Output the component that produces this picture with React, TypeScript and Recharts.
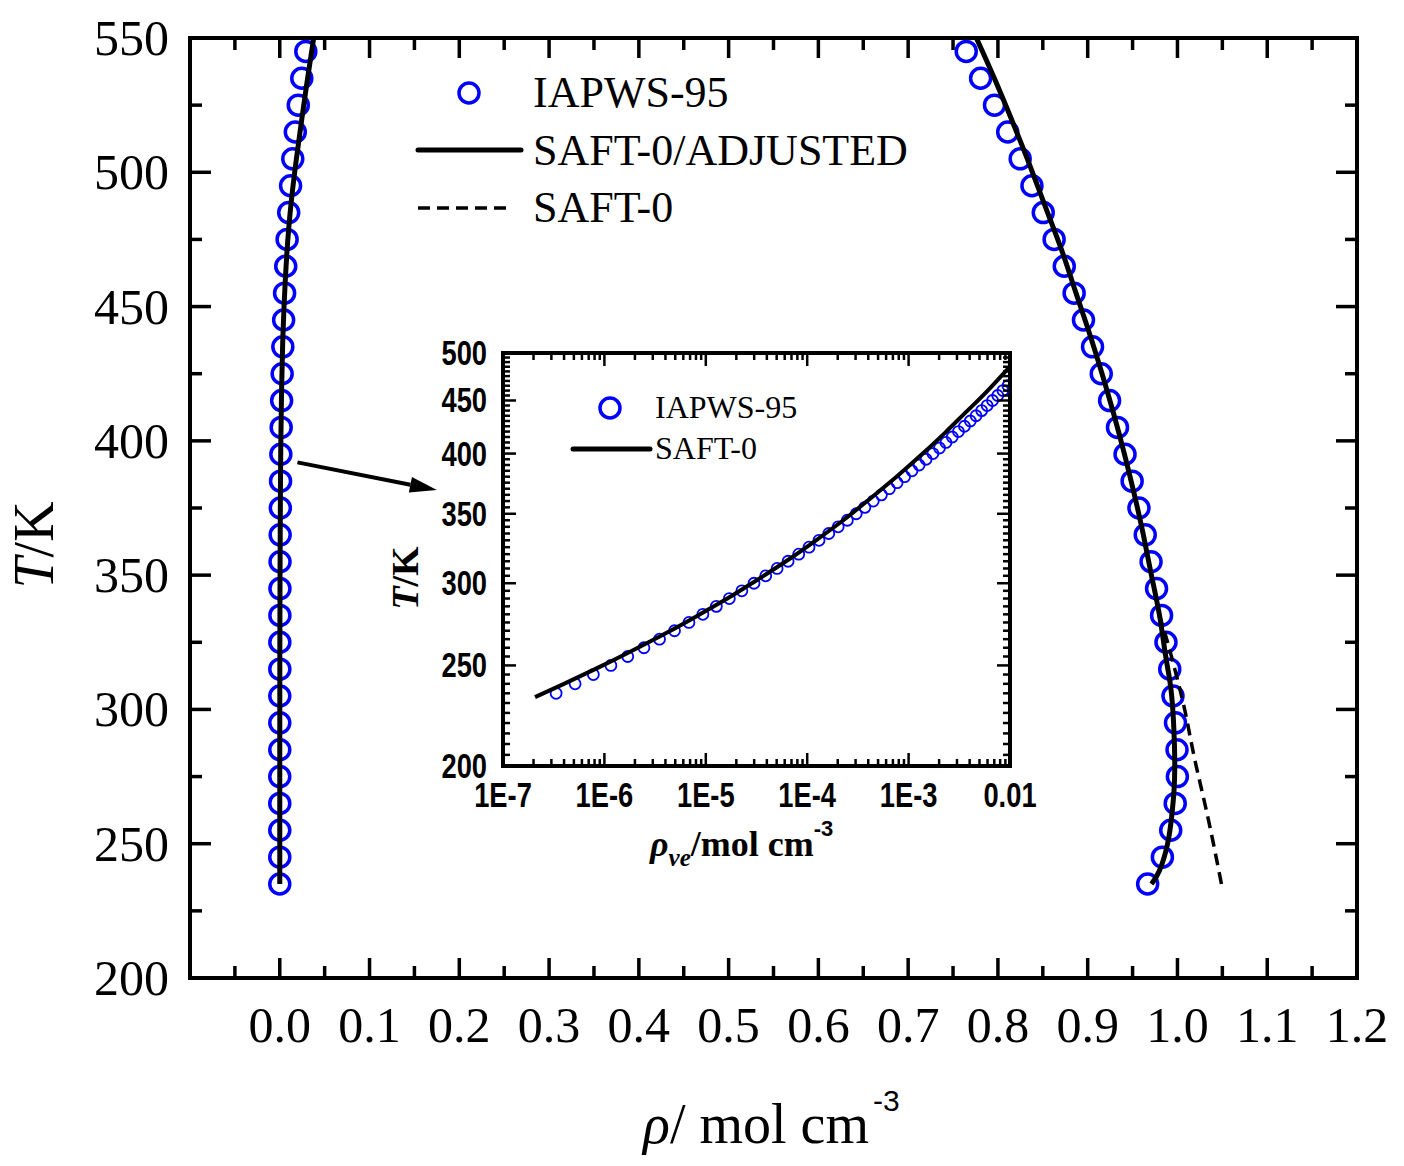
import React from 'react';
import { ComposedChart, Line, Scatter, XAxis, YAxis, ReferenceArea, ReferenceLine } from 'recharts';

const SERIF = '"Liberation Serif", "Times New Roman", serif';
const SANS = '"Liberation Sans", Arial, sans-serif';
const BLUE = '#0000ff';

// ---------- main panel: coexistence densities ----------
// IAPWS-95 saturation temperatures (K)
const tempIapws = [235, 245, 255, 265, 275, 285, 295, 305, 315, 325, 335, 345, 355, 365, 375, 385,
  395, 405, 415, 425, 435, 445, 455, 465, 475, 485, 495, 505, 515, 525, 535, 545];
const rhoVapourIapws = [0.00000025, 0.00000063, 0.0000014, 0.0000029, 0.0000057, 0.000011, 0.000019,
  0.000033, 0.000053, 0.000083, 0.00013, 0.0002, 0.0003, 0.00044, 0.00064, 0.00087, 0.00119, 0.00158,
  0.00207, 0.00267, 0.00341, 0.0043, 0.00538, 0.00665, 0.00817, 0.00995, 0.01203, 0.01447, 0.01731,
  0.02063, 0.0245, 0.029];
const rhoLiquidIapws = [0.9668, 0.9832, 0.9925, 0.9975, 0.9999, 0.9995, 0.9978, 0.995, 0.9914, 0.9872,
  0.9823, 0.9767, 0.9706, 0.9641, 0.9571, 0.9495, 0.9416, 0.9332, 0.9244, 0.9151, 0.9054, 0.8953,
  0.8849, 0.8739, 0.8626, 0.8505, 0.8379, 0.8248, 0.8109, 0.7962, 0.7807, 0.7647];

// SAFT-0/ADJUSTED
const tempAdjVapour = [235, 260, 290, 320, 350, 380, 400, 420, 440, 460, 480, 500, 520, 535, 550];
const rhoAdjVapour = [0.0000003, 0.000002, 0.000015, 0.00008, 0.0003, 0.0007, 0.0012, 0.0021, 0.0036,
  0.0062, 0.0102, 0.0166, 0.0246, 0.031, 0.0378];
const tempAdjLiquid = [235, 240, 250, 260, 270, 280, 290, 300, 310, 320, 335, 350, 365, 380, 395, 410,
  425, 440, 455, 471, 487, 503, 519, 535, 550];
const rhoAdjLiquid = [0.971, 0.98, 0.989, 0.9935, 0.9962, 0.997, 0.9963, 0.9948, 0.9918, 0.9868, 0.98,
  0.971, 0.962, 0.952, 0.941, 0.929, 0.916, 0.902, 0.887, 0.871, 0.853, 0.835, 0.816, 0.796, 0.776];

// SAFT-0 (original parameters), liquid branch where it departs
const tempSaft0Liquid = [235, 255, 270, 285, 300, 315, 325, 335];
const rhoSaft0Liquid = [1.049, 1.037, 1.027, 1.017, 1.008, 0.997, 0.989, 0.98];

const xMajorTicks = [0, 0.1, 0.2, 0.3, 0.4, 0.5, 0.6, 0.7, 0.8, 0.9, 1.0, 1.1, 1.2];
const xTickLabels = ['0.0', '0.1', '0.2', '0.3', '0.4', '0.5', '0.6', '0.7', '0.8', '0.9', '1.0', '1.1', '1.2'];
const xMinorTicks = [-0.05, 0.05, 0.15, 0.25, 0.35, 0.45, 0.55, 0.65, 0.75, 0.85, 0.95, 1.05, 1.15];
const yMajorTicks = [200, 250, 300, 350, 400, 450, 500, 550];
const yMinorTicks = [225, 275, 325, 375, 425, 475, 525];

// arrow pointing from the vapour branch to the inset
const arrowFrom = { x: 0.0197, y: 392 };
const arrowTo = { x: 0.175, y: 381.7 };

// ---------- inset: vapour density on log axes ----------
const tempInsetIapws = [235, 240, 245, 250, 255, 260, 265, 270, 275, 280, 285, 290, 295, 300, 305, 310,
  315, 320, 325, 330, 335, 340, 345, 350, 355, 360, 365, 370, 375, 380, 385, 390, 395, 400, 405, 410,
  415, 420, 425, 430, 435, 440, 445, 450, 455, 460, 465];
const rhoInsetIapws = [3.34e-7, 5.14e-7, 7.78e-7, 1.159e-6, 1.698e-6, 2.453e-6, 3.494e-6, 4.913e-6,
  6.82e-6, 9.36e-6, 1.27e-5, 1.706e-5, 2.268e-5, 2.988e-5, 3.9e-5, 5.05e-5, 6.48e-5, 8.25e-5, 1.042e-4,
  1.308e-4, 1.632e-4, 2.021e-4, 2.488e-4, 3.044e-4, 3.703e-4, 4.481e-4, 5.395e-4, 6.462e-4, 7.7e-4,
  9.14e-4, 1.08e-3, 1.27e-3, 1.488e-3, 1.736e-3, 2.017e-3, 2.336e-3, 2.696e-3, 3.101e-3, 3.555e-3,
  4.061e-3, 4.627e-3, 5.256e-3, 5.952e-3, 6.724e-3, 7.571e-3, 8.507e-3, 9.535e-3];
const tempInsetSaft0 = [233, 240, 250, 260, 270, 280, 290, 300, 315, 330, 345, 360, 380, 400, 420, 440,
  460, 485, 490];
const rhoInsetSaft0 = [2.07e-7, 3.99e-7, 9.64e-7, 2.14e-6, 4.48e-6, 8.73e-6, 1.63e-5, 2.85e-5, 6.18e-5,
  1.222e-4, 2.27e-4, 3.9e-4, 7.6e-4, 1.378e-3, 2.35e-3, 3.81e-3, 6.03e-3, 9.93e-3, 1.1e-2];

const insetXMajor = [1e-7, 1e-6, 1e-5, 1e-4, 1e-3, 1e-2];
const insetXLabels = ['1E-7', '1E-6', '1E-5', '1E-4', '1E-3', '0.01'];
const insetYMajor = [200, 250, 300, 350, 400, 450, 500];

// minor ticks of the inset: 2..9 per decade, every 5 K
const insetXTicks: number[] = [];
insetXMajor.slice(0, -1).forEach((d) => {
  for (let k = 1; k <= 9; k++) insetXTicks.push(k * d);
});
insetXTicks.push(1e-2);
const insetYTicks: number[] = [];
for (let t = 200; t <= 500; t += 5) insetYTicks.push(t);

const zip = (t: number[], r: number[]) => t.map((T, i) => ({ T, rho: r[i] }));

const iapwsMain = [...zip(tempIapws, rhoVapourIapws), ...zip(tempIapws, rhoLiquidIapws)];
const adjVapour = zip(tempAdjVapour, rhoAdjVapour);
const adjLiquid = zip(tempAdjLiquid, rhoAdjLiquid);
const saft0Liquid = zip(tempSaft0Liquid, rhoSaft0Liquid);
const iapwsInset = zip(tempInsetIapws, rhoInsetIapws);
const saft0Inset = zip(tempInsetSaft0, rhoInsetSaft0);

// plot-area bounds (page pixels for the main chart)
const MAIN = { left: 190, top: 38, right: 1357, bottom: 978 };
// inset wrapper on the page, and its plot area inside the wrapper's own svg
const INSET_BOX = { left: 380, top: 330, width: 660, height: 560 };
const INSET = { left: 123, top: 23, right: 630, bottom: 436 };

const near = (a: number, b: number) => Math.abs(a - b) < 1e-6;

const MainXTick = (props: any) => {
  const { x, payload } = props;
  const idx = xMajorTicks.findIndex((m) => near(m, payload.value));
  const len = idx >= 0 ? 20 : 12;
  return (
    <g>
      <line x1={x} x2={x} y1={MAIN.bottom} y2={MAIN.bottom - len} stroke="#000" strokeWidth={3.5} />
      <line x1={x} x2={x} y1={MAIN.top} y2={MAIN.top + len} stroke="#000" strokeWidth={3.5} />
      {idx >= 0 && (
        <text x={x} y={MAIN.bottom + 64} textAnchor="middle" fontSize={50} fontFamily={SERIF} fill="#000">
          {xTickLabels[idx]}
        </text>
      )}
    </g>
  );
};

const MainYTick = (props: any) => {
  const { y, payload } = props;
  const major = yMajorTicks.includes(payload.value);
  const len = major ? 21 : 12;
  return (
    <g>
      <line x1={MAIN.left} x2={MAIN.left + len} y1={y} y2={y} stroke="#000" strokeWidth={3.5} />
      <line x1={MAIN.right} x2={MAIN.right - len} y1={y} y2={y} stroke="#000" strokeWidth={3.5} />
      {major && (
        <text x={MAIN.left - 21} y={y + 17} textAnchor="end" fontSize={50} fontFamily={SERIF} fill="#000">
          {payload.value}
        </text>
      )}
    </g>
  );
};

const InsetXTick = (props: any) => {
  const { x, payload } = props;
  const idx = insetXMajor.findIndex((m) => near(Math.log10(m), Math.log10(payload.value)));
  const len = idx >= 0 ? 13 : 7;
  return (
    <g>
      <line x1={x} x2={x} y1={INSET.bottom} y2={INSET.bottom - len} stroke="#000" strokeWidth={2.5} />
      <line x1={x} x2={x} y1={INSET.top} y2={INSET.top + len} stroke="#000" strokeWidth={2.5} />
      {idx >= 0 && (
        <text transform={`translate(${x},${INSET.bottom + 41}) scale(0.78,1)`} textAnchor="middle"
          fontSize={35} fontWeight="bold" fontFamily={SANS} fill="#000">
          {insetXLabels[idx]}
        </text>
      )}
    </g>
  );
};

const InsetYTick = (props: any) => {
  const { y, payload } = props;
  const major = insetYMajor.includes(payload.value);
  const len = major ? 13 : 7;
  return (
    <g>
      <line x1={INSET.left} x2={INSET.left + len} y1={y} y2={y} stroke="#000" strokeWidth={2.5} />
      <line x1={INSET.right} x2={INSET.right - len} y1={y} y2={y} stroke="#000" strokeWidth={2.5} />
      {major && (
        <text transform={`translate(${INSET.left - 16},${y + 12}) scale(0.78,1)`} textAnchor="end"
          fontSize={35} fontWeight="bold" fontFamily={SANS} fill="#000">
          {payload.value}
        </text>
      )}
    </g>
  );
};

const OpenCircle = (r: number, w: number) => (props: any) => (
  <circle cx={props.cx} cy={props.cy} r={r} fill="none" stroke={BLUE} strokeWidth={w} />
);

const Arrow = (props: any) => {
  const { x1, y1, x2, y2 } = props;
  const a = Math.atan2(y2 - y1, x2 - x1);
  const len = 27;
  const half = 8;
  const bx = x2 - len * Math.cos(a);
  const by = y2 - len * Math.sin(a);
  const px = -Math.sin(a) * half;
  const py = Math.cos(a) * half;
  return (
    <g>
      <line x1={x1} y1={y1} x2={bx} y2={by} stroke="#000" strokeWidth={4} />
      <polygon points={`${x2},${y2} ${bx + px},${by + py} ${bx - px},${by - py}`} fill="#000" />
    </g>
  );
};

export default function App() {
  return (
    <div style={{ position: 'absolute', left: 0, top: 0, width: 1404, height: 1166, background: '#fff' }}>
      <ComposedChart width={1404} height={1166} margin={{ top: 38, right: 47, bottom: 0, left: 0 }}>
        <XAxis dataKey="rho" type="number" domain={[-0.1, 1.2]} allowDataOverflow
          ticks={[...xMajorTicks, ...xMinorTicks].sort((a, b) => a - b)} interval={0}
          tick={MainXTick} tickLine={false} axisLine={false} tickSize={0} tickMargin={0} height={188} />
        <YAxis dataKey="T" type="number" domain={[200, 550]} allowDataOverflow
          ticks={[...yMajorTicks, ...yMinorTicks].sort((a, b) => a - b)} interval={0}
          tick={MainYTick} tickLine={false} axisLine={false} tickSize={0} tickMargin={0} width={190} />
        <ReferenceArea x1={-0.1} x2={1.2} y1={200} y2={550} fill="none" stroke="#000" strokeWidth={4} />
        <Scatter data={iapwsMain} shape={OpenCircle(10, 3.5)} isAnimationActive={false} />
        <Line data={saft0Liquid} dataKey="T" type="natural" stroke="#000" strokeWidth={3.5}
          strokeDasharray="12 7" dot={false} activeDot={false} isAnimationActive={false} zIndex={700} />
        <Line data={adjVapour} dataKey="T" type="natural" stroke="#000" strokeWidth={5}
          dot={false} activeDot={false} isAnimationActive={false} zIndex={700} />
        <Line data={adjLiquid} dataKey="T" type="natural" stroke="#000" strokeWidth={5}
          dot={false} activeDot={false} isAnimationActive={false} zIndex={700} />
        <ReferenceLine segment={[arrowFrom, arrowTo]} shape={Arrow} />
      </ComposedChart>

      <div style={{ position: 'absolute', left: INSET_BOX.left, top: INSET_BOX.top }}>
        <ComposedChart width={INSET_BOX.width} height={INSET_BOX.height}
          margin={{ top: INSET.top, right: INSET_BOX.width - INSET.right, bottom: 0, left: 0 }}>
          <XAxis dataKey="rho" type="number" scale="log" domain={[1e-7, 1e-2]} allowDataOverflow
            ticks={insetXTicks} interval={0} tick={InsetXTick} tickLine={false} axisLine={false}
            tickSize={0} tickMargin={0} height={INSET_BOX.height - INSET.bottom} />
          <YAxis dataKey="T" type="number" scale="log" domain={[200, 500]} allowDataOverflow
            ticks={insetYTicks} interval={0} tick={InsetYTick} tickLine={false} axisLine={false}
            tickSize={0} tickMargin={0} width={INSET.left} />
          <ReferenceArea x1={1e-7} x2={1e-2} y1={200} y2={500} fill="none" stroke="#000" strokeWidth={4} />
          <Scatter data={iapwsInset} shape={OpenCircle(5.5, 1.8)} isAnimationActive={false} />
          <Line data={saft0Inset} dataKey="T" type="natural" stroke="#000" strokeWidth={4}
            dot={false} activeDot={false} isAnimationActive={false} zIndex={700} />
        </ComposedChart>
      </div>

      {/* axis titles and legends */}
      <svg width={1404} height={1166} style={{ position: 'absolute', left: 0, top: 0, pointerEvents: 'none' }}>
        <text transform="translate(53,545) rotate(-90)" textAnchor="middle" fontSize={56} fontFamily={SERIF} fill="#000">
          <tspan fontStyle="italic">T</tspan>/K
        </text>
        <text x={643} y={1143} fontSize={56} fontFamily={SERIF} fill="#000">
          <tspan fontStyle="italic">ρ</tspan>/ mol cm
          <tspan fontFamily={SANS} fontSize={30} dx={4} dy={-32}>-3</tspan>
        </text>

        <circle cx={469} cy={93} r={10} fill="none" stroke={BLUE} strokeWidth={3.5} />
        <text x={533} y={107} fontSize={44} fontFamily={SERIF} fill="#000">IAPWS-95</text>
        <line x1={418} x2={521} y1={150} y2={150} stroke="#000" strokeWidth={5} strokeLinecap="round" />
        <text x={533} y={165} fontSize={44} fontFamily={SERIF} fill="#000">SAFT-0/ADJUSTED</text>
        <line x1={418} x2={512} y1={208} y2={208} stroke="#000" strokeWidth={3.5} strokeDasharray="12 7" />
        <text x={533} y={222} fontSize={44} fontFamily={SERIF} fill="#000">SAFT-0</text>

        <text transform="translate(418,578) rotate(-90)" textAnchor="middle" fontSize={38} fontWeight="bold"
          fontFamily={SERIF} fill="#000">
          <tspan fontStyle="italic">T</tspan>/K
        </text>
        <text x={650} y={856} fontSize={36} fontWeight="bold" fontFamily={SERIF} fill="#000">
          <tspan fontStyle="italic">ρ</tspan>
          <tspan fontStyle="italic" fontSize={25} dy={10}>ve</tspan>
          <tspan dy={-10}>/mol cm</tspan>
          <tspan fontFamily={SANS} fontSize={22} dy={-20}>-3</tspan>
        </text>

        <circle cx={610} cy={408} r={10} fill="none" stroke={BLUE} strokeWidth={3.5} />
        <text x={655} y={418} fontSize={32} fontFamily={SERIF} fill="#000">IAPWS-95</text>
        <line x1={573} x2={650} y1={449} y2={449} stroke="#000" strokeWidth={5} strokeLinecap="round" />
        <text x={655} y={459} fontSize={32} fontFamily={SERIF} fill="#000">SAFT-0</text>
      </svg>
    </div>
  );
}
